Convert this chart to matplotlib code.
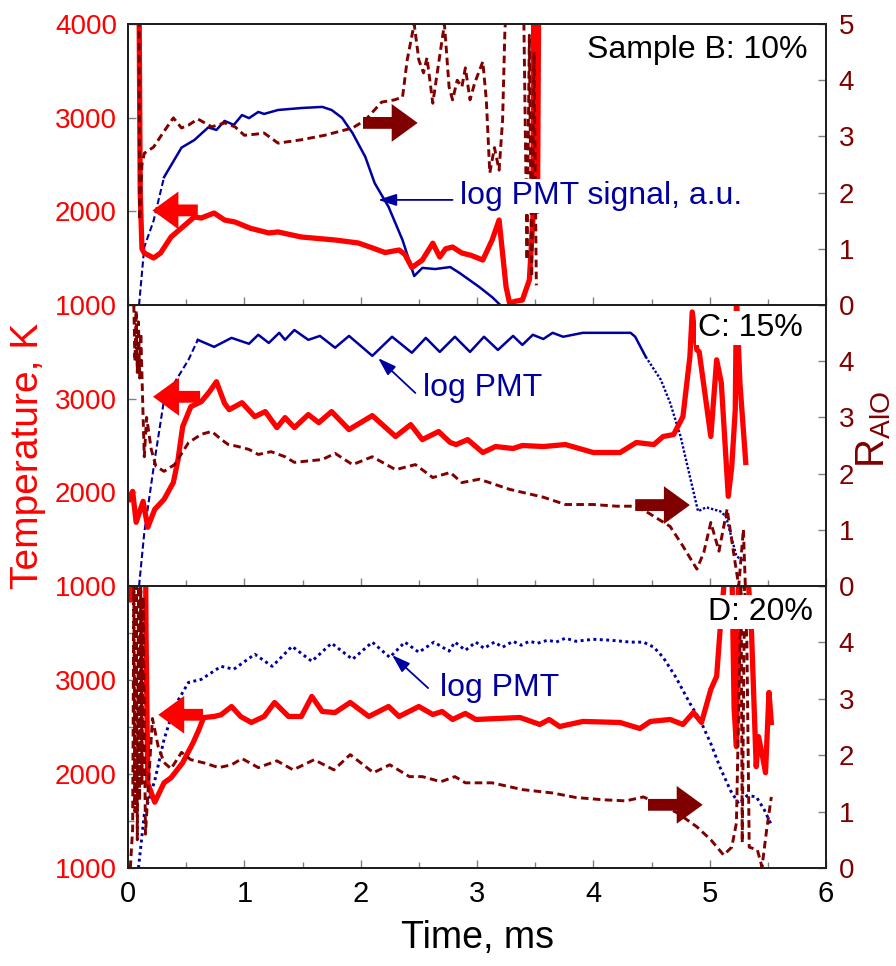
import matplotlib
matplotlib.use("Agg")
import matplotlib.pyplot as plt
from matplotlib.ticker import FixedLocator

plt.rcParams['font.family'] = ['Liberation Sans', 'DejaVu Sans']
plt.rcParams['mathtext.default'] = 'regular'

RED = '#ff0000'
MAROON = '#800000'
BLUE = '#0000a0'

# ---------------- Sample B: 10% ----------------
b_t_x = [0.095, 0.105, 0.12, 0.14, 0.22, 0.28, 0.37, 0.47, 0.57, 0.63, 0.74, 0.83, 0.92, 1.05, 1.21, 1.29,
         1.49, 1.78, 1.98, 2.10, 2.21, 2.33, 2.38, 2.44, 2.53, 2.62, 2.68, 2.73, 2.79, 2.87, 2.95, 3.05,
         3.13, 3.19, 3.25, 3.28, 3.33, 3.39, 3.45, 3.48, 3.49, 3.50, 3.51, 3.52, 3.53]
b_t_y = [4300, 2200, 1600, 1555, 1502, 1555, 1726, 1833, 1940, 1929, 1982, 1907, 1886, 1820, 1769, 1780,
         1726, 1694, 1662, 1610, 1560, 1587, 1540, 1400, 1480, 1660, 1512, 1600, 1619, 1555, 1530, 1480,
         1694, 1907, 1192, 1021, 1040, 1053, 1267, 1907, 4300, 2000, 4300, 2000, 4300]

b_r_x = [0.095, 0.10, 0.12, 0.14, 0.22, 0.30, 0.39, 0.46, 0.52, 0.60, 0.66, 0.72, 0.83, 0.92, 1.00, 1.10,
         1.17, 1.29, 1.49, 1.69, 1.93, 2.04, 2.18, 2.29, 2.36, 2.40, 2.46, 2.50, 2.54, 2.57, 2.62, 2.67,
         2.72, 2.76, 2.79, 2.83, 2.87, 2.90, 2.94, 2.98, 3.05, 3.08, 3.11, 3.15, 3.19, 3.22, 3.24, 3.26,
         3.40, 3.43, 3.45, 3.47, 3.49, 3.51]
b_r_y = [5.3, 1.51, 2.5, 2.70, 2.81, 3.06, 3.33, 3.15, 3.20, 3.31, 3.24, 3.17, 3.24, 3.17, 3.02, 3.04,
         3.06, 2.88, 2.94, 3.02, 3.15, 3.29, 3.61, 3.65, 3.70, 4.36, 5.0, 4.36, 4.13, 4.40, 3.59, 4.30,
         5.0, 3.88, 3.65, 4.0, 3.88, 4.22, 3.65, 3.95, 4.33, 3.65, 2.35, 2.80, 2.40, 3.29, 4.9, 5.5,
         5.5, 0.8, 4.8, 0.5, 4.5, 0.35]

b_pmt_rise_x = [0.095, 0.14, 0.22, 0.31]
b_pmt_rise_y = [0.0, 0.206, 0.30, 0.455]
b_pmt_x = [0.31, 0.46, 0.57, 0.69, 0.76, 0.83, 0.91, 0.98, 1.04, 1.12, 1.17, 1.29, 1.49, 1.67, 1.75,
           1.84, 1.93, 2.04, 2.12, 2.24, 2.36, 2.46, 2.53, 2.64, 2.77, 2.85, 3.02, 3.13, 3.20]
b_pmt_y = [0.455, 0.56, 0.587, 0.632, 0.623, 0.655, 0.641, 0.676, 0.665, 0.687, 0.680, 0.694, 0.701,
           0.705, 0.694, 0.666, 0.612, 0.527, 0.434, 0.349, 0.231, 0.103, 0.132, 0.128, 0.135, 0.114,
           0.064, 0.028, 0.0]

# ---------------- C: 15% ----------------
c_t_x = [0.01, 0.04, 0.07, 0.13, 0.17, 0.23, 0.31, 0.39, 0.43, 0.47, 0.54, 0.63, 0.70, 0.76, 0.83, 0.87,
         0.98, 1.09, 1.18, 1.28, 1.35, 1.43, 1.55, 1.64, 1.75, 1.90, 2.10, 2.30, 2.43, 2.53, 2.67, 2.77,
         2.82, 2.92, 3.05, 3.16, 3.31, 3.39, 3.57, 3.76, 4.00, 4.23, 4.37, 4.52, 4.60, 4.69, 4.77, 4.83,
         4.85, 4.89, 4.91, 5.01, 5.06, 5.10, 5.16, 5.19, 5.22, 5.23, 5.26, 5.31]
c_t_y = [1925, 2010, 1680, 1904, 1627, 1819, 1925, 2106, 2350, 2702, 2915, 2968, 3074, 3181, 2950, 2883,
         2957, 2808, 2862, 2691, 2798, 2691, 2830, 2744, 2862, 2670, 2819, 2596, 2723, 2563, 2649, 2532,
         2510, 2563, 2425, 2489, 2468, 2500, 2489, 2510, 2425, 2425, 2532, 2510, 2596, 2617, 2808, 3447,
         3926, 3521, 3500, 2596, 3415, 3170, 1957, 2276, 2883, 4100, 3170, 2319]

c_r_x = [0.05, 0.06, 0.07, 0.08, 0.09, 0.10, 0.11, 0.13, 0.14, 0.16, 0.20, 0.24, 0.31, 0.40, 0.52, 0.63,
         0.72, 0.80, 0.86, 0.95, 1.04, 1.12, 1.23, 1.35, 1.43, 1.67, 1.78, 1.93, 2.10, 2.30, 2.47, 2.62,
         2.77, 2.87, 3.02, 3.28, 3.57, 3.76, 4.00, 4.20, 4.34, 4.45, 4.66, 4.77, 4.89, 4.95, 5.01, 5.08,
         5.15, 5.21, 5.25, 5.29, 5.31]
c_r_y = [5.0, 4.0, 4.9, 3.8, 4.7, 3.7, 4.5, 3.0, 2.3, 3.0, 2.43, 2.13, 2.04, 2.16, 2.55, 2.70,
         2.75, 2.61, 2.52, 2.48, 2.43, 2.34, 2.39, 2.30, 2.20, 2.25, 2.36, 2.16, 2.30, 2.07, 2.16, 1.93,
         2.02, 1.84, 1.90, 1.72, 1.58, 1.45, 1.45, 1.42, 1.42, 1.33, 1.06, 0.71, 0.30, 0.60, 1.13, 0.62,
         1.37, 0.53, 0.0, 1.01, -0.2]

c_pmt_rise_x = [0.095, 0.14, 0.23, 0.31, 0.52, 0.60]
c_pmt_rise_y = [0.0, 0.19, 0.45, 0.663, 0.805, 0.876]
c_pmt_x = [0.60, 0.74, 0.89, 1.04, 1.12, 1.21, 1.30, 1.35, 1.43, 1.55, 1.65, 1.78, 1.90, 2.10, 2.27,
           2.44, 2.56, 2.68, 2.81, 2.94, 3.06, 3.18, 3.31, 3.39, 3.48, 3.57, 3.65, 3.74, 3.91, 4.14,
           4.32, 4.36, 4.45]
c_pmt_y = [0.876, 0.851, 0.883, 0.862, 0.894, 0.865, 0.901, 0.876, 0.911, 0.876, 0.890, 0.848, 0.890,
           0.819, 0.887, 0.830, 0.883, 0.833, 0.887, 0.833, 0.887, 0.840, 0.890, 0.858, 0.894, 0.879,
           0.901, 0.887, 0.901, 0.901, 0.901, 0.887, 0.816]
c_pmt_fall_x = [4.45, 4.58, 4.66, 4.75, 4.83, 4.90, 4.97, 5.09, 5.14, 5.23, 5.29]
c_pmt_fall_y = [0.816, 0.734, 0.652, 0.532, 0.390, 0.266, 0.280, 0.266, 0.248, 0.106, 0.089]

# ---------------- D: 20% ----------------
d_t_x = [0.0, 0.02, 0.05, 0.15, 0.155, 0.17, 0.23, 0.31, 0.37, 0.47, 0.56, 0.61, 0.65, 0.74, 0.80,
         0.89, 0.97, 1.06, 1.17, 1.26, 1.38, 1.49, 1.58, 1.67, 1.78, 1.91, 2.07, 2.24, 2.33, 2.50, 2.62,
         2.70, 2.79, 2.90, 2.99, 3.37, 3.54, 3.62, 3.71, 3.91, 4.23, 4.40, 4.49, 4.66, 4.77, 4.86, 4.93,
         5.01, 5.06, 5.09, 5.12, 5.14, 5.19, 5.21, 5.23, 5.25, 5.32, 5.36, 5.40, 5.42, 5.46, 5.48, 5.51,
         5.53]
d_t_y = [4000, 3850, 4500, 4500, 3500, 1900, 1700, 1907, 1960, 2120, 2334, 2473, 2600, 2612, 2630,
         2718, 2610, 2548, 2612, 2761, 2612, 2612, 2825, 2665, 2654, 2761, 2612, 2718, 2612, 2718, 2633,
         2665, 2580, 2644, 2580, 2601, 2527, 2580, 2505, 2559, 2548, 2484, 2559, 2580, 2527, 2654, 2548,
         2900, 3039, 3541, 3968, 4300, 4300, 2700, 2291, 4300, 4300, 3500, 2078, 2398, 2150, 2014, 2868,
         2548]

d_r_x = [0.02, 0.04, 0.05, 0.06, 0.07, 0.08, 0.09, 0.10, 0.11, 0.12, 0.13, 0.15, 0.21, 0.26, 0.31,
         0.37, 0.46, 0.54, 0.66, 0.78, 0.89, 0.98, 1.12, 1.28, 1.42, 1.60, 1.77, 1.91, 2.11, 2.25, 2.42,
         2.53, 2.69, 2.81, 2.90, 3.13, 3.39, 3.65, 3.85, 4.08, 4.28, 4.43, 4.54, 4.72, 4.89, 5.01, 5.12,
         5.19, 5.23, 5.25, 5.27, 5.28, 5.30, 5.32, 5.34, 5.41, 5.45, 5.49, 5.53]
d_r_y = [0.0, 0.7, 5.0, 1.0, 5.0, 0.5, 5.0, 1.2, 5.0, 1.5, 4.8, 0.6, 2.65, 2.15, 1.87,
         1.76, 2.05, 1.92, 1.86, 1.78, 1.83, 1.94, 1.78, 1.90, 1.74, 1.92, 1.74, 2.01, 1.69, 1.83, 1.62,
         1.62, 1.53, 1.62, 1.51, 1.51, 1.39, 1.33, 1.25, 1.21, 1.19, 1.26, 1.16, 0.98, 0.73, 0.50, 0.23,
         0.37, 0.80, 2.9, 5.0, 0.45, 5.0, 4.0, 0.37, 0.32, 0.02, 0.68, 1.26]

d_pmt_x = [0.09, 0.14, 0.23, 0.31, 0.40, 0.52, 0.63, 0.80, 0.91, 1.09, 1.24, 1.41, 1.58, 1.75, 1.93,
           2.10, 2.25, 2.38, 2.50, 2.63, 2.76, 2.81, 2.90, 2.99, 3.06, 3.15, 3.22, 3.31, 3.38, 3.45,
           3.52, 3.61, 3.68, 3.76, 3.85, 4.00, 4.14, 4.32, 4.43, 4.52, 4.60, 4.71, 4.83, 4.92, 5.01,
           5.09, 5.18, 5.25, 5.32, 5.40, 5.47, 5.53]
d_pmt_y = [0.0, 0.19, 0.31, 0.456, 0.573, 0.658, 0.669, 0.715, 0.705, 0.758, 0.715, 0.786, 0.733, 0.797,
           0.740, 0.801, 0.747, 0.801, 0.765, 0.801, 0.769, 0.801, 0.772, 0.801, 0.779, 0.801, 0.783,
           0.804, 0.790, 0.804, 0.797, 0.808, 0.801, 0.815, 0.804, 0.811, 0.808, 0.801, 0.801, 0.783,
           0.747, 0.676, 0.584, 0.523, 0.441, 0.356, 0.274, 0.228, 0.256, 0.253, 0.206, 0.153]

panel_labels = ['Sample B: 10%', 'C: 15%', 'D: 20%']
x_ticks = [0, 1, 2, 3, 4, 5, 6]
t_ticks = [1000, 2000, 3000, 4000]
r_ticks = [0, 1, 2, 3, 4, 5]

fig = plt.figure(figsize=(8.96, 9.66), dpi=100)
fig.patch.set_facecolor('white')

L, W = 128 / 896, 698 / 896
rects = [(L, 1 - 305 / 966, W, 281 / 966),
         (L, 1 - 586 / 966, W, 281 / 966),
         (L, 1 - 868 / 966, W, 282 / 966)]


def style_axes(ax_t, ax_r, ax_p, bottom, minor_left):
    ax_p.set_ylim(0, 1)
    ax_p.axis('off')
    ax_t.set_zorder(2)
    ax_p.set_zorder(1)
    ax_r.set_zorder(3)
    ax_t.patch.set_visible(False)
    ax_r.patch.set_visible(False)

    ax_t.set_xlim(0, 6)
    ax_t.set_ylim(1000, 4000)
    ax_r.set_ylim(0, 5)
    ax_t.xaxis.set_major_locator(FixedLocator(x_ticks))
    ax_t.xaxis.set_minor_locator(FixedLocator([0.5 + i for i in range(6)]))
    ax_t.tick_params(axis='x', which='both', direction='in', colors='#808080', top=False)
    ax_t.tick_params(axis='x', which='major', length=6, width=1, labelcolor='black',
                     labelsize=21, pad=9)
    ax_t.tick_params(axis='x', which='minor', length=4, width=1)
    if not bottom:
        ax_t.tick_params(axis='x', which='both', labelbottom=False)

    ax_t.yaxis.set_major_locator(FixedLocator(t_ticks))
    ax_t.tick_params(axis='y', which='major', direction='in', length=6, width=1, colors='#808080',
                     labelcolor=RED, labelsize=20, pad=8)
    if minor_left:
        ax_t.yaxis.set_minor_locator(FixedLocator([1500, 2500, 3500]))
        ax_t.tick_params(axis='y', which='minor', direction='in', length=4, width=1, colors='#808080')
    ax_r.yaxis.set_major_locator(FixedLocator(r_ticks))
    ax_r.tick_params(axis='y', which='major', direction='in', length=6, width=1, colors='#808080',
                     labelcolor=MAROON, labelsize=20, pad=9)
    for s in list(ax_t.spines.values()) + list(ax_r.spines.values()):
        s.set_linewidth(1.4)
        s.set_color('#202020')


def hide_top_labels(ax_t, ax_r):
    ax_t.set_yticks(t_ticks)
    ax_t.set_yticklabels([str(v) for v in t_ticks[:-1]] + [''])
    ax_r.set_yticks(r_ticks)
    ax_r.set_yticklabels([str(v) for v in r_ticks[:-1]] + [''])


def fat_arrow(ax, tail, tip, color):
    ax.annotate('', xy=tip, xytext=tail, xycoords='data', textcoords='data',
                arrowprops=dict(arrowstyle='simple,head_length=1.1,head_width=1.6,tail_width=0.5',
                                mutation_scale=17, color=color, lw=0, shrinkA=0, shrinkB=0),
                annotation_clip=False)


def pmt_note(ax, text, text_xy, tail, head):
    ax.annotate('', xy=head, xytext=tail, xycoords=ax.get_xaxis_transform(),
                textcoords=ax.get_xaxis_transform(),
                arrowprops=dict(arrowstyle='-|>,head_length=1.1,head_width=0.36', mutation_scale=10,
                                color=BLUE, lw=1.3, shrinkA=0, shrinkB=0))
    ax.text(text_xy[0], text_xy[1], text, transform=ax.get_xaxis_transform(), color=BLUE,
            fontsize=23, ha='left', va='center',
            bbox=dict(boxstyle='square,pad=0.05', facecolor='white', edgecolor='none'))


def panel_label(ax, text, xf, yf):
    ax.text(xf, yf, text, transform=ax.transAxes, fontsize=23, ha='right', va='center',
            color='black', bbox=dict(boxstyle='square,pad=0.05', facecolor='white', edgecolor='none'))


dash = (0, (2.6, 1.5))
R_LW = 2.1
T_LW = 3.8
axes = []
for i, rect in enumerate(rects):
    ax_t = fig.add_axes(rect)
    ax_p = ax_t.twinx()
    ax_r = ax_t.twinx()
    style_axes(ax_t, ax_r, ax_p, bottom=(i == 2), minor_left=(i == 2))
    axes.append((ax_t, ax_p, ax_r))

# Sample B
ax_t, ax_p, ax_r = axes[0]
ax_p.plot(b_pmt_rise_x, b_pmt_rise_y, color=BLUE, lw=1.5, linestyle=(0, (3, 1.5)))
ax_p.plot(b_pmt_x, b_pmt_y, color=BLUE, lw=1.8, solid_joinstyle='round')
ax_t.plot(b_t_x, b_t_y, color=RED, lw=T_LW, solid_joinstyle='round')
ax_r.plot(b_r_x, b_r_y, color=MAROON, lw=R_LW, linestyle=dash)
fat_arrow(ax_t, (0.60, 2010), (0.21, 2010), RED)
fat_arrow(ax_r, (2.02, 3.24), (2.49, 3.24), MAROON)
pmt_note(ax_r, 'log PMT signal, a.u.', (2.85, 0.388), (2.79, 0.374), (2.15, 0.374))
panel_label(ax_r, panel_labels[0], 0.973, 0.907)

# C
ax_t, ax_p, ax_r = axes[1]
hide_top_labels(ax_t, ax_r)
ax_p.plot(c_pmt_rise_x, c_pmt_rise_y, color=BLUE, lw=1.5, linestyle=(0, (3, 1.5)))
ax_p.plot(c_pmt_x, c_pmt_y, color=BLUE, lw=1.8, solid_joinstyle='round')
ax_p.plot(c_pmt_fall_x, c_pmt_fall_y, color=BLUE, lw=1.7, linestyle=(0, (1, 0.8)))
ax_t.plot(c_t_x, c_t_y, color=RED, lw=T_LW, solid_joinstyle='round')
ax_r.plot(c_r_x, c_r_y, color=MAROON, lw=R_LW, linestyle=dash)
fat_arrow(ax_t, (0.62, 3020), (0.215, 3020), RED)
fat_arrow(ax_r, (4.36, 1.44), (4.83, 1.44), MAROON)
pmt_note(ax_r, 'log PMT', (2.54, 0.705), (2.47, 0.687), (2.15, 0.811))
panel_label(ax_r, panel_labels[1], 0.966, 0.918)

# D
ax_t, ax_p, ax_r = axes[2]
hide_top_labels(ax_t, ax_r)
ax_p.plot(d_pmt_x, d_pmt_y, color=BLUE, lw=2.1, linestyle=(0, (1, 1.2)))
ax_t.plot(d_t_x, d_t_y, color=RED, lw=T_LW, solid_joinstyle='round')
ax_r.plot(d_r_x, d_r_y, color=MAROON, lw=R_LW, linestyle=dash)
fat_arrow(ax_t, (0.645, 2630), (0.26, 2630), RED)
fat_arrow(ax_r, (4.47, 1.12), (4.94, 1.12), MAROON)
pmt_note(ax_r, 'log PMT', (2.68, 0.638), (2.58, 0.638), (2.27, 0.755))
panel_label(ax_r, panel_labels[2], 0.981, 0.908)
ax_t.set_xlabel('Time, ms', fontsize=27, labelpad=8)

fig.text(0.031, 0.528, 'Temperature, K', rotation=90, color=RED, fontsize=28,
         ha='center', va='center')
fig.text(0.975, 0.555, r'R$_{AlO}$', rotation=90, color=MAROON, fontsize=29,
         ha='center', va='center')

fig.savefig('out.png', dpi=100, facecolor='white')
